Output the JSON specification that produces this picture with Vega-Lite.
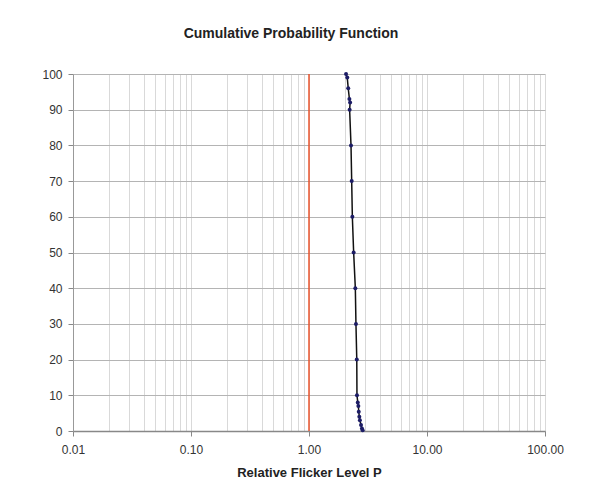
{
  "$schema": "https://vega.github.io/schema/vega-lite/v6.json",
  "width": 472,
  "height": 357,
  "autosize": "none",
  "padding": {"left": 73, "top": 74, "right": 47, "bottom": 65},
  "background": "#ffffff",
  "title": {
    "text": "Cumulative Probability Function",
    "font": "Liberation Sans",
    "fontSize": 14,
    "fontWeight": "bold",
    "color": "#222222",
    "anchor": "middle",
    "dx": -18,
    "offset": 27
  },
  "config": {
    "view": {"stroke": null},
    "axis": {
      "labelFont": "Liberation Sans",
      "labelFontSize": 12,
      "labelColor": "#333333",
      "titleFont": "Liberation Sans",
      "titleFontSize": 13,
      "titleFontWeight": "bold",
      "titleColor": "#222222"
    },
    "axisY": {"labelOverlap": false}
  },
  "data": {
    "values": [
      {"p": 100, "x": 2.06},
      {"p": 99, "x": 2.11},
      {"p": 96, "x": 2.15},
      {"p": 93, "x": 2.2},
      {"p": 92, "x": 2.23},
      {"p": 90, "x": 2.21},
      {"p": 80, "x": 2.27},
      {"p": 70, "x": 2.3},
      {"p": 60, "x": 2.33},
      {"p": 50, "x": 2.39},
      {"p": 40, "x": 2.47},
      {"p": 30, "x": 2.5},
      {"p": 20, "x": 2.54},
      {"p": 10, "x": 2.55},
      {"p": 8, "x": 2.59},
      {"p": 7, "x": 2.62},
      {"p": 5.4, "x": 2.64},
      {"p": 4, "x": 2.67},
      {"p": 3, "x": 2.7},
      {"p": 1.7, "x": 2.76},
      {"p": 0.7, "x": 2.81},
      {"p": 0.2, "x": 2.85}
    ]
  },
  "encoding": {
    "x": {
      "field": "x",
      "type": "quantitative",
      "scale": {"type": "log", "domain": [0.01, 100], "nice": false},
      "axis": {
        "title": "Relative Flicker Level P",
        "titlePadding": 11,
        "values": [0.01, 0.02, 0.03, 0.04, 0.05, 0.06, 0.07, 0.08, 0.09, 0.1, 0.2, 0.3, 0.4, 0.5, 0.6, 0.7, 0.8, 0.9, 1, 2, 3, 4, 5, 6, 7, 8, 9, 10, 20, 30, 40, 50, 60, 70, 80, 90, 100],
        "labelExpr": "abs(log(datum.value)/LN10 - round(log(datum.value)/LN10)) < 0.001 ? format(datum.value, '.2f') : ''",
        "labelOverlap": false,
        "labelFlush": false,
        "labelPadding": 8,
        "grid": true,
        "gridColor": "#d9d9d9",
        "gridWidth": 1,
        "tickSize": 5,
        "tickColor": "#888888",
        "tickOpacity": {"condition": {"test": "abs(log(datum.value)/LN10 - round(log(datum.value)/LN10)) < 0.001", "value": 1}, "value": 0},
        "domainColor": "#888888",
        "domainWidth": 1.5
      }
    }
  },
  "layer": [
    {
      "data": {"values": [{"x": 1}]},
      "mark": {"type": "rule", "color": "#e8532c", "strokeWidth": 1.5},
      "encoding": {}
    },
    {
      "mark": {"type": "line", "color": "#111111", "strokeWidth": 1.5},
      "encoding": {
        "y": {
          "field": "p",
          "type": "quantitative",
          "scale": {"domain": [0, 100], "nice": false},
          "axis": {
            "title": null,
            "values": [0, 10, 20, 30, 40, 50, 60, 70, 80, 90, 100],
            "labelOverlap": false,
            "grid": true,
            "gridColor": "#b4b4b4",
            "tickSize": 5,
            "tickColor": "#888888",
            "labelPadding": 6,
            "domainColor": "#999999"
          }
        },
        "order": {"field": "p", "type": "quantitative"}
      }
    },
    {
      "mark": {"type": "point", "shape": "circle", "filled": true, "color": "#1c1c66", "size": 16, "opacity": 1},
      "encoding": {
        "y": {
          "field": "p",
          "type": "quantitative",
          "scale": {"domain": [0, 100], "nice": false},
          "axis": {
            "title": null,
            "values": [0, 10, 20, 30, 40, 50, 60, 70, 80, 90, 100],
            "labelOverlap": false,
            "grid": true,
            "gridColor": "#b4b4b4",
            "tickSize": 5,
            "tickColor": "#888888",
            "labelPadding": 6,
            "domainColor": "#999999"
          }
        }
      }
    }
  ]
}
